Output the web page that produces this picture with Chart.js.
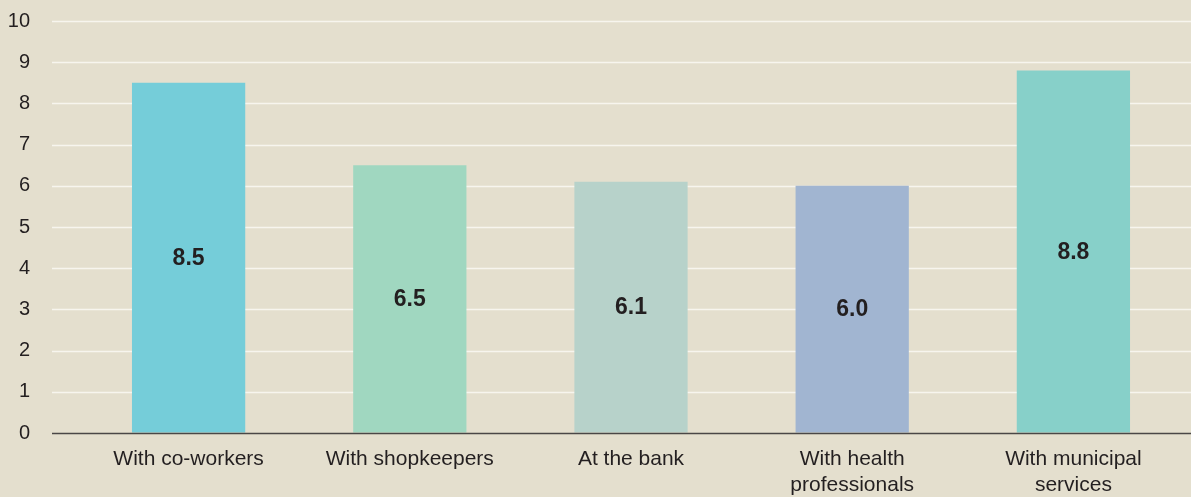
<!DOCTYPE html>
<html>
<head>
<meta charset="utf-8">
<style>
  html, body { margin: 0; padding: 0; background: #E4DFCE; }
  #wrap { width: 1191px; height: 497px; position: relative; }
</style>
<script src="https://cdn.jsdelivr.net/npm/chart.js@4.4.1/dist/chart.umd.min.js"></script>
</head>
<body>
<div id="wrap"><canvas id="c" width="1191" height="497"></canvas></div>
<script>
// Categories, values and tick labels
const categories = [
  "With co-workers",
  "With shopkeepers",
  "At the bank",
  ["With health", "professionals"],
  ["With municipal", "services"]
];
const scores = [8.5, 6.5, 6.1, 6.0, 8.8];
const scoreLabels = ["8.5", "6.5", "6.1", "6.0", "8.8"];
const barColors = ["#75CDD9", "#A0D7C0", "#B7D2CA", "#A1B5D1", "#87D0C9"];
const yTicks = [0, 1, 2, 3, 4, 5, 6, 7, 8, 9, 10];

const FONT = "'Liberation Sans', Arial, Helvetica, sans-serif";
const TEXT = "#231F20";
const GRID_LEFT = 52;

// Horizontal gridlines and baseline span the full width, wider than the bar area
const gridPlugin = {
  id: "wideGrid",
  beforeDatasetsDraw(chart) {
    const { ctx, scales: { y }, width } = chart;
    ctx.save();
    yTicks.forEach(v => {
      if (v === 0) return;
      const py = Math.round(y.getPixelForValue(v)) + 0.5;
      ctx.strokeStyle = "#F7F5EE";
      ctx.lineWidth = 1.6;
      ctx.beginPath();
      ctx.moveTo(GRID_LEFT, py);
      ctx.lineTo(width, py);
      ctx.stroke();
    });
    ctx.restore();
  },
  afterDatasetsDraw(chart) {
    const { ctx, scales: { y }, width } = chart;
    const py = Math.round(y.getPixelForValue(0)) + 0.5;
    ctx.save();
    ctx.strokeStyle = "#4A4746";
    ctx.lineWidth = 1.5;
    ctx.beginPath();
    ctx.moveTo(GRID_LEFT, py);
    ctx.lineTo(width, py);
    ctx.stroke();
    ctx.restore();
  }
};

// Value labels centred inside each bar
const valuePlugin = {
  id: "barValues",
  afterDatasetsDraw(chart) {
    const { ctx } = chart;
    const meta = chart.getDatasetMeta(0);
    ctx.save();
    ctx.fillStyle = TEXT;
    ctx.font = "bold 23px " + FONT;
    ctx.textAlign = "center";
    ctx.textBaseline = "middle";
    meta.data.forEach((bar, i) => {
      ctx.fillText(scoreLabels[i], bar.x, (bar.y + bar.base) / 2 + 1);
    });
    ctx.restore();
  }
};

new Chart(document.getElementById("c"), {
  type: "bar",
  data: {
    labels: categories,
    datasets: [{
      data: scores,
      backgroundColor: barColors,
      borderWidth: 0,
      categoryPercentage: 1,
      barPercentage: 0.512
    }]
  },
  options: {
    responsive: false,
    animation: false,
    devicePixelRatio: 1,
    layout: { padding: { top: 21, right: 7, left: 0, bottom: 0 } },
    plugins: {
      legend: { display: false },
      tooltip: { enabled: false }
    },
    scales: {
      y: {
        min: 0,
        max: 10,
        afterFit(scale) { scale.width = 78; },
        afterBuildTicks(scale) { scale.ticks = yTicks.map(v => ({ value: v })); },
        grid: { display: true, drawOnChartArea: false, drawTicks: true, tickLength: 46, color: "rgba(0,0,0,0)" },
        border: { display: false },
        ticks: {
          padding: 2,
          color: TEXT,
          font: { family: FONT, size: 20 }
        }
      },
      x: {
        afterFit(scale) { scale.height = 64; },
        grid: { display: false, drawTicks: false },
        border: { display: false },
        ticks: {
          padding: 13,
          color: TEXT,
          maxRotation: 0,
          autoSkip: false,
          font: { family: FONT, size: 21, lineHeight: 1.24 }
        }
      }
    }
  },
  plugins: [gridPlugin, valuePlugin]
});
</script>
</body>
</html>
